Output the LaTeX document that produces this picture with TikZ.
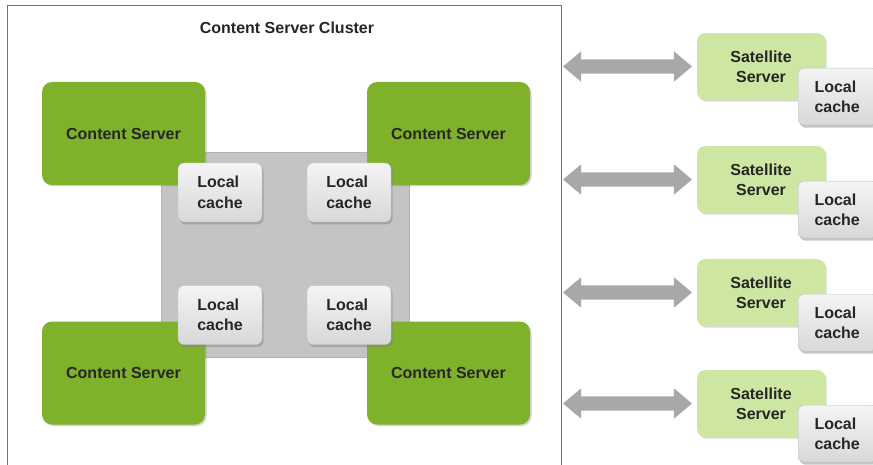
\documentclass[tikz,border=0pt]{standalone}
\usepackage{fontspec}
\setmainfont{Liberation Sans}
\usetikzlibrary{shadows,shapes.arrows}
\definecolor{csgreen}{HTML}{7FB12A}
\definecolor{satgreen}{HTML}{CDE6A2}
\definecolor{hubgray}{HTML}{C4C4C4}
\definecolor{arrowgray}{HTML}{A8A8A8}
\definecolor{cachetop}{HTML}{F4F4F4}
\definecolor{cachebot}{HTML}{D8D8D8}
\tikzset{
  lbl/.style={font=\bfseries\fontsize{16}{20.5}\selectfont, text=black!85},
  csbox/.style={lbl, draw=none, fill=csgreen, rounded corners=10pt, minimum width=163pt, minimum height=103pt,
     drop shadow={shadow xshift=1.5pt, shadow yshift=-1.5pt, opacity=0.35}},
  satbox/.style={draw=none, fill=satgreen, rounded corners=8pt, minimum width=128pt, minimum height=67pt,
     drop shadow={shadow xshift=1.5pt, shadow yshift=-1.5pt, opacity=0.3}},
  cachebox/.style={lbl, draw=black!25, top color=cachetop, bottom color=cachebot, rounded corners=6pt, minimum width=84pt, minimum height=59pt,
     drop shadow={shadow xshift=1.5pt, shadow yshift=-2.5pt, opacity=0.45}, align=left},
  scache/.style={cachebox, minimum width=78pt, minimum height=57pt},
  linkarrow/.style={draw=none, fill=arrowgray, double arrow, double arrow head extend=8pt, minimum height=129pt, inner sep=0pt, double arrow tip angle=80},
}
\begin{document}
\begin{tikzpicture}[x=1pt,y=-1pt]
\useasboundingbox (0,0) rectangle (873,465);
\begin{scope}
\clip (0,0) rectangle (873,465);
\node[draw=black!55, line width=0.8pt, fill=white, minimum width=554pt, minimum height=470pt, anchor=north west, inner sep=0pt] (cluster) at (7,5) {};
\end{scope}
\node[lbl] (title) at (287,28) {Content Server Cluster};
\node[fill=hubgray, draw=black!30, minimum width=248pt, minimum height=205pt, inner sep=0pt] (hub) at (285,255) {};
\node[csbox] (cs1) at (123.5,133.5) {Content Server};
\node[csbox] (cs2) at (448.5,133.5) {Content Server};
\node[csbox] (cs3) at (123.5,373) {Content Server};
\node[csbox] (cs4) at (448.5,373) {Content Server};
\node[cachebox] (c1) at (220,192.5) {Local\\cache};
\node[cachebox] (c2) at (349,192.5) {Local\\cache};
\node[cachebox] (c3) at (220,315) {Local\\cache};
\node[cachebox] (c4) at (349,315) {Local\\cache};
\foreach \i/\y in {1/33,2/146,3/259,4/370}{
  \node[satbox, anchor=north west] (s\i) at (697,\y) {};
  \node[lbl, align=center] (st\i) at (761,\y+34) {Satellite\\Server};
  \node[scache, anchor=north west] (sc\i) at (798,\y+35) {Local\\cache};
  \node[linkarrow] (a\i) at (627.5,\y+33.5) {\rule{0pt}{14pt}};
}
\end{tikzpicture}
\end{document}
